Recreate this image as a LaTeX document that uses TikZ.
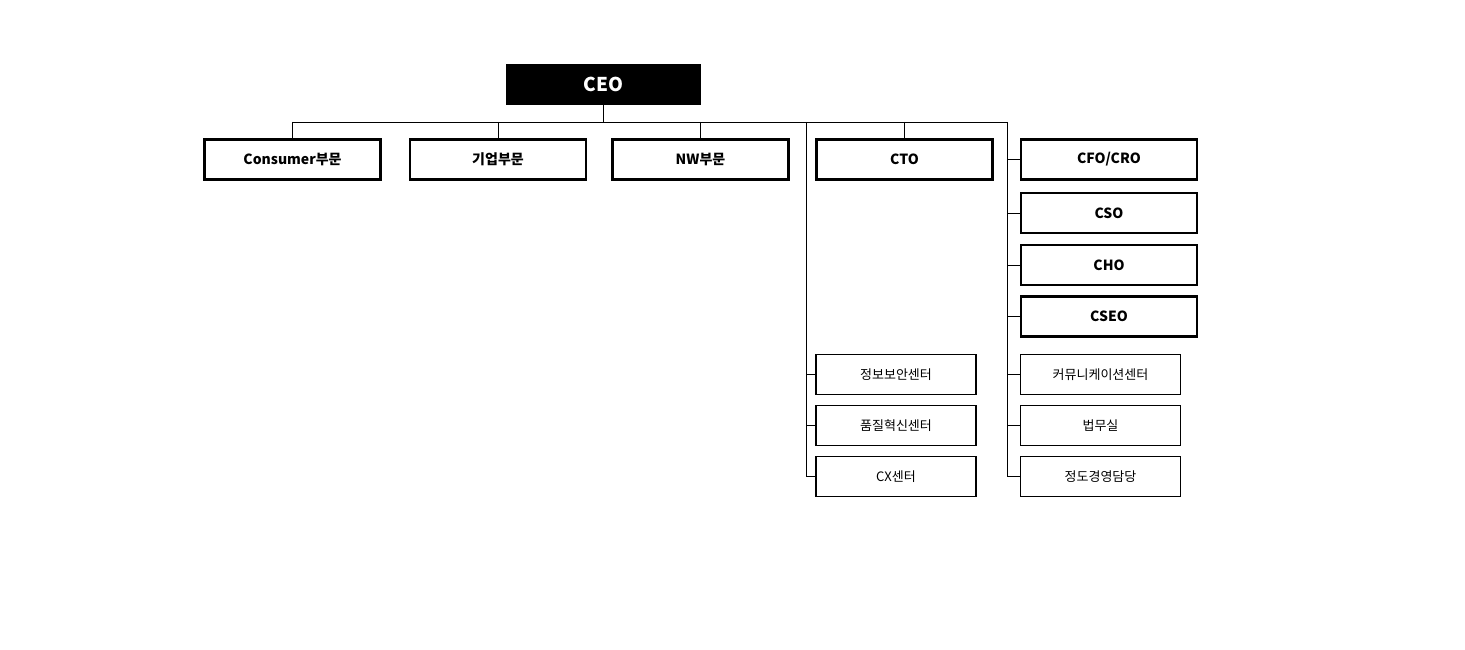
\documentclass[tikz,border=0pt]{standalone}
\usepackage{fontspec}
\setmainfont{Noto Sans CJK KR}
\begin{document}
\begin{tikzpicture}[x=1pt,y=-1pt]
\tikzset{bigbox/.style={draw=black,line width=2.4pt,minimum width=176pt,minimum height=40pt,inner sep=0pt,font=\fontsize{14}{16}\selectfont\bfseries},
smallbox/.style={draw=black,line width=1.4pt,minimum width=160pt,minimum height=40pt,inner sep=0pt,font=\fontsize{13}{15}\selectfont},
link/.style={line width=0.8pt}}
\useasboundingbox (0,0) rectangle (1465,650);
\node [fill=black,text=white,minimum width=195pt,minimum height=41pt,inner sep=0pt,font=\fontsize{19}{22}\selectfont\bfseries] (ceo) at (603.5,84.5) {CEO};
% top row
\node [bigbox] (cons) at (292.5,159.5) {Consumer부문};
\node [bigbox] (corp) at (498,159.5) {기업부문};
\node [bigbox] (nw) at (700.5,159.5) {NW부문};
\node [bigbox] (cto) at (904.5,159.5) {CTO};
\node [bigbox] (cfo) at (1109,159.5) {CFO/CRO};
\node [bigbox] (cso) at (1109,213) {CSO};
\node [bigbox] (cho) at (1109,265) {CHO};
\node [bigbox] (cseo) at (1109,316.5) {CSEO};
% staff
\node [smallbox] (sec) at (896,374.5) {정보보안센터};
\node [smallbox] (qual) at (896,425.5) {품질혁신센터};
\node [smallbox] (cx) at (896,476.5) {CX센터};
\node [smallbox] (comm) at (1100.5,374.5) {커뮤니케이션센터};
\node [smallbox] (law) at (1100.5,425.5) {법무실};
\node [smallbox] (ethic) at (1100.5,476.5) {정도경영담당};
% bus
\coordinate (bus) at (603.5,122);
\coordinate (busl) at (292.5,122);
\coordinate (busr) at (1007,122);
\coordinate (lane1) at (806,122);
\draw [link] (ceo.south) -- (bus);
\draw [link] (busl) -- (busr);
\foreach \n in {cons,corp,nw,cto}
  \draw [link] (\n.north |- bus) -- (\n.north);
\draw [link] (lane1) -- (806,476.5);
\draw [link] (busr) -- (1007,476.5);
\foreach \n in {sec,qual,cx}
  \draw [link] (lane1 |- \n.west) -- (\n.west);
\foreach \n in {cfo,cso,cho,cseo,comm,law,ethic}
  \draw [link] (busr |- \n.west) -- (\n.west);
\end{tikzpicture}
\end{document}
